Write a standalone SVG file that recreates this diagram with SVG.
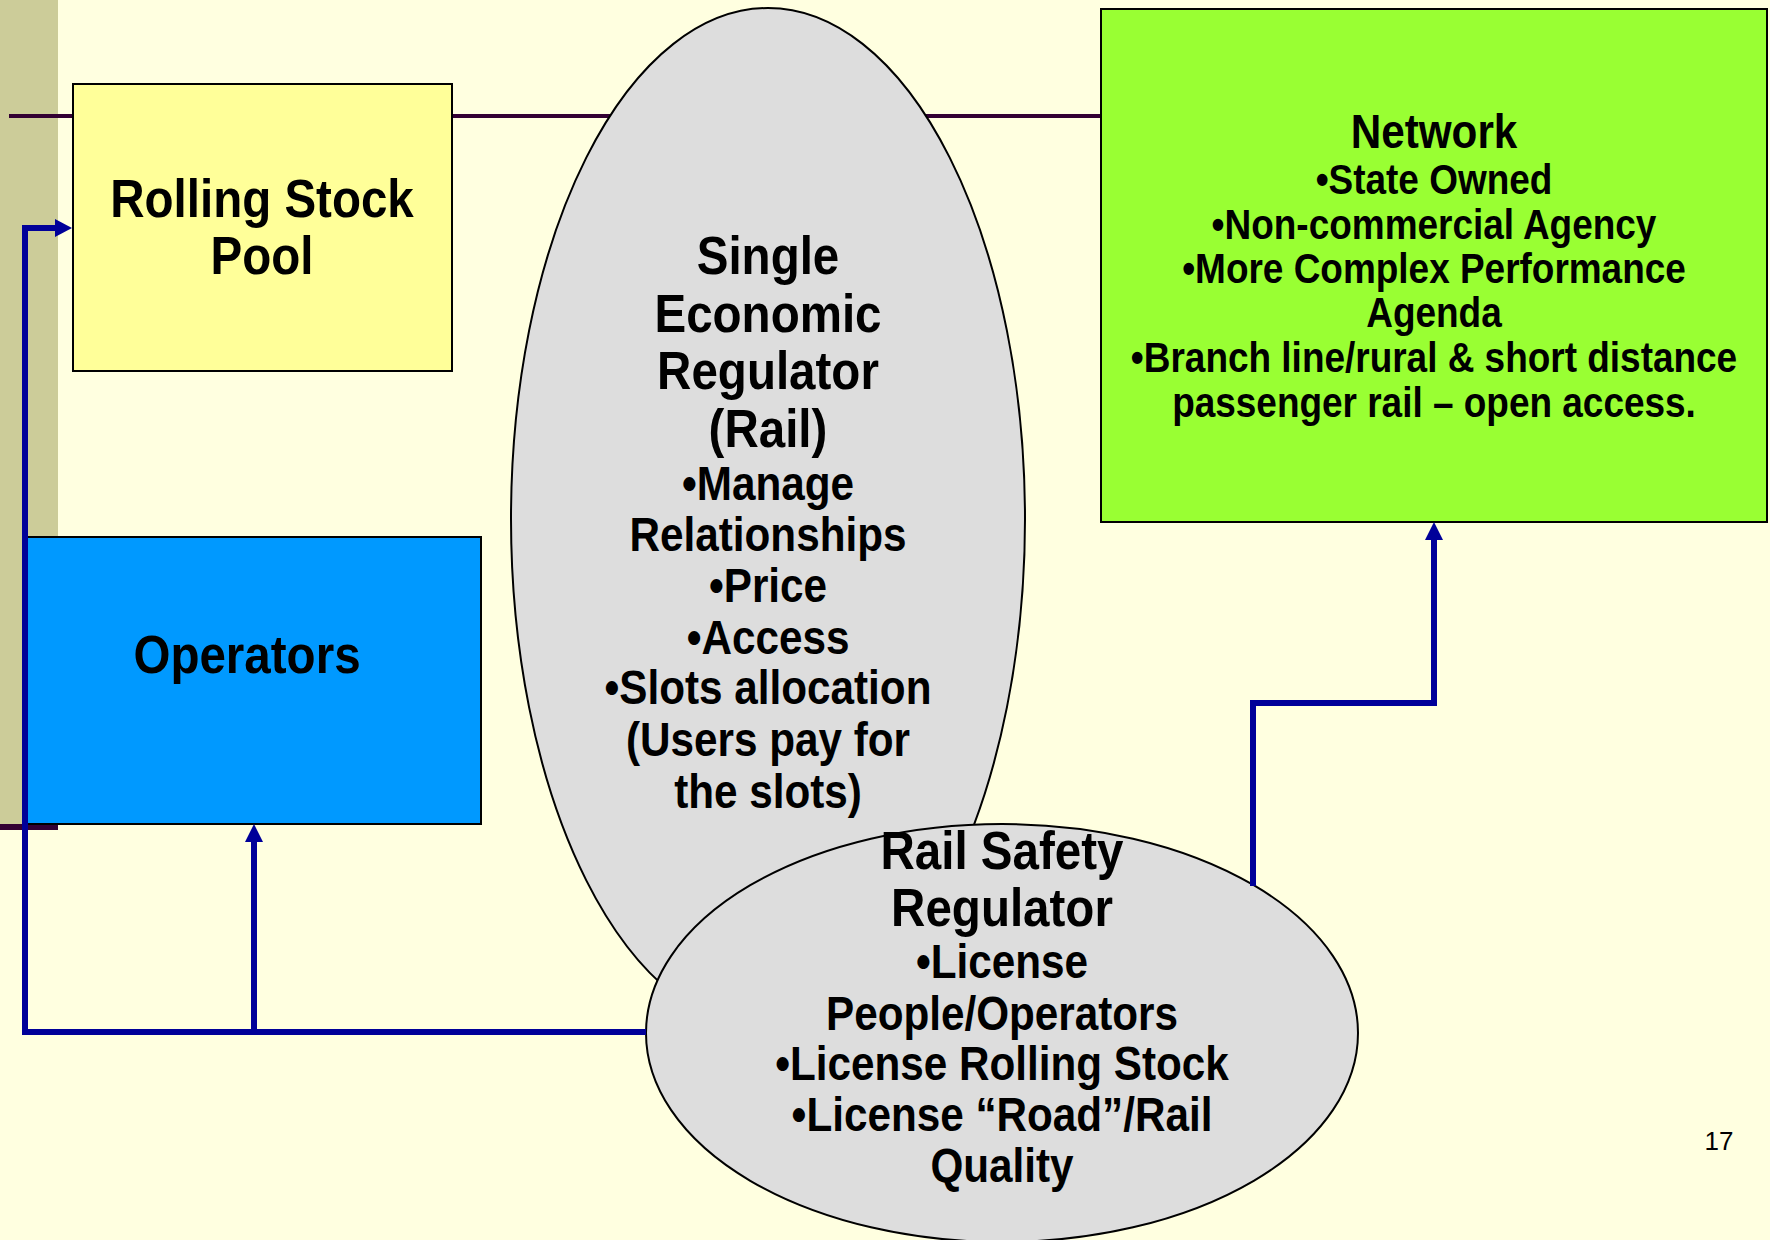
<svg xmlns="http://www.w3.org/2000/svg" width="1770" height="1240" viewBox="0 0 1770 1240">
  <style>
    .lbl { font-family: "Liberation Sans", Arial, sans-serif; font-weight: bold; fill: #000; text-anchor: middle; }
    .box { stroke: #000; stroke-width: 2; }
    .oval { fill: #DDDDDD; stroke: #000; stroke-width: 2; }
    .wire { fill: none; stroke: #000099; stroke-width: 6; stroke-linejoin: miter; }
  </style>
  <defs>
    <marker id="arrow" viewBox="0 0 18 18" refX="18" refY="9" markerWidth="18" markerHeight="18" markerUnits="userSpaceOnUse" orient="auto">
      <path d="M0,0 L18,9 L0,18 Z" fill="#000099"/>
    </marker>
  </defs>

  <!-- slide background and side band -->
  <rect x="0" y="0" width="1770" height="1240" fill="#FFFFE0"/>
  <rect x="0" y="0" width="58" height="830" fill="#CCCC99"/>
  <rect x="0" y="824" width="58" height="6" fill="#330033"/>
  <line x1="9" y1="116" x2="1100" y2="116" stroke="#330033" stroke-width="4"/>

  <g id="rolling-stock">
    <rect class="box" x="73" y="84" width="379" height="287" fill="#FFFF99"/>
    <g transform="translate(262,0) scale(0.88,1)">
      <text class="lbl" x="0" y="217" font-size="54">Rolling Stock</text>
      <text class="lbl" x="0" y="274" font-size="54">Pool</text>
    </g>
  </g>

  <g id="operators">
    <rect class="box" x="25" y="537" width="456" height="287" fill="#0099FF"/>
    <g transform="translate(247,0) scale(0.88,1)">
      <text class="lbl" x="0" y="673" font-size="54">Operators</text>
    </g>
  </g>

  <g id="network">
    <rect class="box" x="1101" y="9" width="666" height="513" fill="#99FF33"/>
    <g transform="translate(1434,0) scale(0.88,1)">
      <text class="lbl" x="0" y="148" font-size="48">Network</text>
      <text class="lbl" x="0" y="194" font-size="42">•State Owned</text>
      <text class="lbl" x="0" y="239" font-size="42">•Non-commercial Agency</text>
      <text class="lbl" x="0" y="283" font-size="42">•More Complex Performance</text>
      <text class="lbl" x="0" y="327" font-size="42">Agenda</text>
      <text class="lbl" x="0" y="372" font-size="42">•Branch line/rural &amp; short distance</text>
      <text class="lbl" x="0" y="417" font-size="42">passenger rail – open access.</text>
    </g>
  </g>

  <g id="economic-regulator">
    <ellipse class="oval" cx="768" cy="519" rx="257" ry="511"/>
    <g transform="translate(768,0) scale(0.88,1)">
      <text class="lbl" x="0" y="274" font-size="54">Single</text>
      <text class="lbl" x="0" y="332" font-size="54">Economic</text>
      <text class="lbl" x="0" y="389" font-size="54">Regulator</text>
      <text class="lbl" x="0" y="447" font-size="54">(Rail)</text>
      <text class="lbl" x="0" y="500" font-size="48">•Manage</text>
      <text class="lbl" x="0" y="551" font-size="48">Relationships</text>
      <text class="lbl" x="0" y="602" font-size="48">•Price</text>
      <text class="lbl" x="0" y="654" font-size="48">•Access</text>
      <text class="lbl" x="0" y="704" font-size="48">•Slots allocation</text>
      <text class="lbl" x="0" y="756" font-size="48">(Users pay for</text>
      <text class="lbl" x="0" y="808" font-size="48">the slots)</text>
    </g>
  </g>

  <g id="safety-regulator">
    <ellipse class="oval" cx="1002" cy="1033" rx="356" ry="209"/>
    <g transform="translate(1002,0) scale(0.88,1)">
      <text class="lbl" x="0" y="869" font-size="54">Rail Safety</text>
      <text class="lbl" x="0" y="926" font-size="54">Regulator</text>
      <text class="lbl" x="0" y="978" font-size="48">•License</text>
      <text class="lbl" x="0" y="1030" font-size="48">People/Operators</text>
      <text class="lbl" x="0" y="1080" font-size="48">•License Rolling Stock</text>
      <text class="lbl" x="0" y="1131" font-size="48">•License “Road”/Rail</text>
      <text class="lbl" x="0" y="1182" font-size="48">Quality</text>
    </g>
  </g>

  <g id="connectors">
    <path class="wire" d="M646,1032 H25 V228 H62"/>
    <path d="M72,228 L55,219 L55,237 Z" fill="#000099"/>
    <path class="wire" d="M254,1032 V834"/>
    <path d="M254,824 L245,842 L263,842 Z" fill="#000099"/>
    <path class="wire" d="M1253,886 V703 H1434 V532"/>
    <path d="M1434,522 L1425,540 L1443,540 Z" fill="#000099"/>
  </g>

  <text x="1719" y="1150" font-family="Liberation Sans, Arial, sans-serif" font-size="26" text-anchor="middle" fill="#000">17</text>
</svg>
